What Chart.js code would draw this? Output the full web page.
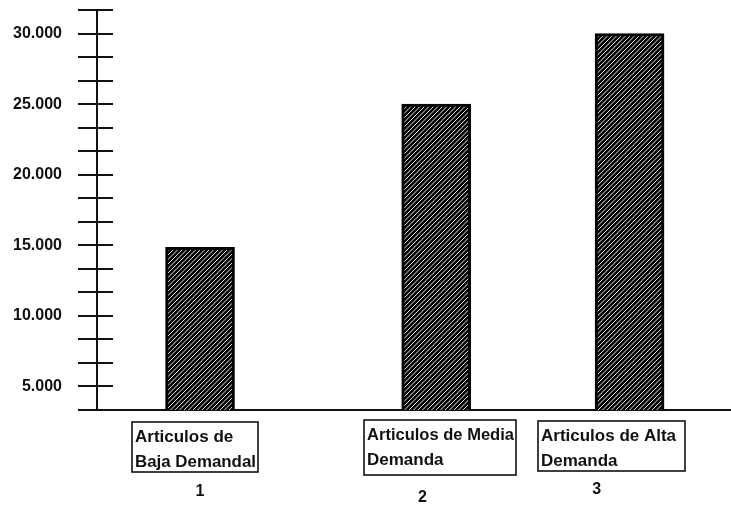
<!DOCTYPE html>
<html>
<head>
    <meta charset="utf-8">
    <title>Articulos por demanda</title>
    <script src="https://cdn.jsdelivr.net/npm/chart.js"></script>
    <style>
        html, body { margin: 0; padding: 0; background: #fff; }
        .chart-container { width: 731px; height: 506px; position: relative; }
    </style>
</head>
<body>
    <div class="chart-container">
        <canvas id="demandChart"></canvas>
    </div>

    <script>
        // Data
        const categories = [
            ['Articulos de', 'Baja Demandal'],
            ['Articulos de Media', 'Demanda'],
            ['Articulos de Alta', 'Demanda']
        ];
        const categoryNumbers = ['1', '2', '3'];
        const values = [14850, 25000, 30000];
        const yLabelValues = [5000, 10000, 15000, 20000, 25000, 30000];
        const yStep = 5000 / 3;          // minor tick spacing on the axis
        const yMin = 2 * yStep;
        const yMax = 19 * yStep;

        // Layout (x positions in x-scale units, y offsets below the axis in px)
        const barSlots = [0.975, 3.21, 5.04];
        const boxLeft = [0.331, 2.527, 4.173];
        const boxRight = [1.524, 3.965, 5.565];
        const boxTop = [12, 10, 11];
        const boxBottom = [62, 65, 61];
        const numberSlots = [0.975, 3.08, 4.73];
        const numberOffsets = [82, 88, 80];

        const INK = '#111';
        const FONT = "'Liberation Sans', Arial, sans-serif";

        const yTicks = [];
        for (let i = 2; i <= 19; i++) yTicks.push(i * yStep);

        function formatThousands(v) {
            return String(Math.round(v)).replace(/\B(?=(\d{3})+(?!\d))/g, '.');
        }

        // black fill with thin white "/" hatching
        function makeHatch() {
            const size = 9;
            const c = document.createElement('canvas');
            c.width = size; c.height = size;
            const g = c.getContext('2d');
            g.fillStyle = '#000';
            g.fillRect(0, 0, size, size);
            g.strokeStyle = '#fff';
            g.lineWidth = 0.9;
            g.beginPath();
            [-4.5, 0, 4.5, 9, 13.5].forEach(k => {
                g.moveTo(k - 1, size + 1);
                g.lineTo(k + size + 1, -1);
            });
            g.stroke();
            return g.createPattern(c, 'repeat');
        }

        const annotate = {
            id: 'annotate',
            afterDraw(chart) {
                const { ctx, chartArea, scales: { x, y } } = chart;
                ctx.save();

                // tick marks crossing into the plot
                ctx.strokeStyle = INK;
                ctx.lineWidth = 2;
                y.ticks.forEach(t => {
                    const py = Math.round(y.getPixelForValue(t.value));
                    ctx.beginPath();
                    ctx.moveTo(chartArea.left, py);
                    ctx.lineTo(chartArea.left + 16, py);
                    ctx.stroke();
                });

                // category boxes
                categories.forEach((lines, i) => {
                    const left = Math.round(x.getPixelForValue(boxLeft[i]));
                    const right = Math.round(x.getPixelForValue(boxRight[i]));
                    const top = chartArea.bottom + boxTop[i];
                    const bottom = chartArea.bottom + boxBottom[i];
                    ctx.lineWidth = 1.6;
                    ctx.strokeStyle = INK;
                    ctx.strokeRect(left, top, right - left, bottom - top);

                    ctx.fillStyle = INK;
                    ctx.font = 'bold 17px ' + FONT;
                    ctx.textAlign = 'left';
                    ctx.textBaseline = 'alphabetic';
                    lines.forEach((line, j) => {
                        ctx.fillText(line, left + 3, top + 20 + j * 25, right - left - 5);
                    });

                    ctx.font = 'bold 16px ' + FONT;
                    ctx.textAlign = 'center';
                    ctx.textBaseline = 'middle';
                    ctx.fillText(categoryNumbers[i], x.getPixelForValue(numberSlots[i]),
                        chartArea.bottom + numberOffsets[i]);
                });

                ctx.restore();
            }
        };

        const ctx = document.getElementById('demandChart').getContext('2d');
        new Chart(ctx, {
            type: 'bar',
            data: {
                datasets: [{
                    data: values.map((v, i) => ({ x: barSlots[i], y: v })),
                    backgroundColor: makeHatch(),
                    borderColor: '#000',
                    borderWidth: 3,
                    borderSkipped: false,
                    barThickness: 69
                }]
            },
            options: {
                responsive: true,
                maintainAspectRatio: false,
                animation: false,
                layout: { padding: { top: 10, right: 0, left: 0, bottom: 0 } },
                scales: {
                    x: {
                        type: 'linear',
                        offset: false,
                        min: 0,
                        max: 6,
                        afterFit: s => {
                            s.height = 96;
                            s.paddingLeft = 0;
                            s.paddingRight = 0;
                        },
                        ticks: { display: false },
                        grid: { display: false },
                        border: { color: INK, width: 2 }
                    },
                    y: {
                        min: yMin,
                        max: yMax,
                        afterBuildTicks: s => { s.ticks = yTicks.map(v => ({ value: v })); },
                        afterFit: s => {
                            s.width = 97;
                            s.paddingTop = 0;
                            s.paddingBottom = 0;
                        },
                        ticks: {
                            autoSkip: false,
                            padding: 16,
                            color: INK,
                            font: { family: FONT, size: 16, weight: 'bold' },
                            callback: function (val) {
                                const hit = yLabelValues.find(l => Math.abs(l - val) < 1);
                                return hit ? formatThousands(hit) : '';
                            }
                        },
                        grid: {
                            drawOnChartArea: false,
                            tickLength: 19,
                            color: INK,
                            lineWidth: 2
                        },
                        border: { color: INK, width: 2 }
                    }
                },
                plugins: {
                    legend: { display: false },
                    tooltip: { enabled: false }
                }
            },
            plugins: [annotate]
        });
    </script>
</body>
</html>
